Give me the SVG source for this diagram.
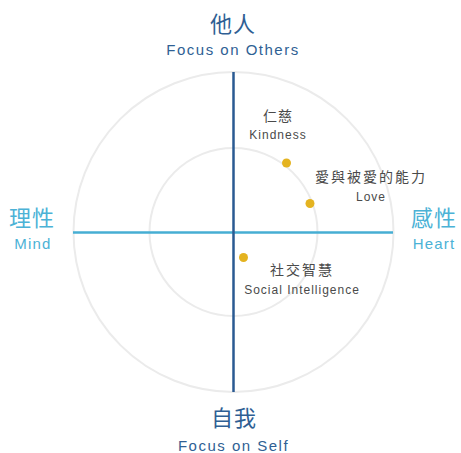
<svg xmlns="http://www.w3.org/2000/svg" width="461" height="453" viewBox="0 0 461 453">
<style>
.ring{fill:none;stroke:#ebebeb;stroke-width:2}
.cjk{font-family:"Noto Sans CJK TC","Noto Sans CJK SC",sans-serif;text-anchor:middle}
.lat{font-family:"Liberation Sans",Arial,sans-serif;text-anchor:middle}
.dark{fill:#2f5f94}
.light{fill:#4bb2d6}
.grey{fill:#4a4a4a}
.dot{fill:#e4b320}
</style>
<rect width="461" height="453" fill="#fff"/>
<g id="rings">
<circle class="ring" cx="233.5" cy="232" r="160"/>
<circle class="ring" cx="233.5" cy="232" r="84"/>
</g>
<g id="connectors">
<line x1="73" y1="232.5" x2="393" y2="232.5" stroke="#46aed3" stroke-width="2.5"/>
<line x1="233.5" y1="72" x2="233.5" y2="392" stroke="#2a5a92" stroke-width="2.5"/>
</g>
<g id="top">
<text class="cjk dark" x="233" y="32" font-size="22" letter-spacing="1">他人</text>
<text class="lat dark" x="233" y="55" font-size="15" letter-spacing="1.5">Focus on Others</text>
</g>
<g id="bottom">
<text class="cjk dark" x="234" y="426" font-size="22" letter-spacing="1">自我</text>
<text class="lat dark" x="233.5" y="451" font-size="15" letter-spacing="1.5">Focus on Self</text>
</g>
<g id="left">
<text class="cjk light" x="32" y="226" font-size="22" letter-spacing="1">理性</text>
<text class="lat light" x="33" y="249" font-size="15" letter-spacing="1.2">Mind</text>
</g>
<g id="right">
<text class="cjk light" x="434" y="226" font-size="22" letter-spacing="1">感性</text>
<text class="lat light" x="434" y="249" font-size="15" letter-spacing="1.2">Heart</text>
</g>
<g id="kindness">
<circle class="dot" cx="286.5" cy="163" r="4.5"/>
<text class="cjk grey" x="278" y="121" font-size="14" letter-spacing="1">仁慈</text>
<text class="lat grey" x="278" y="139" font-size="12" letter-spacing="1">Kindness</text>
</g>
<g id="love">
<circle class="dot" cx="310" cy="203.5" r="4.5"/>
<text class="cjk grey" x="371" y="182" font-size="14" letter-spacing="2">愛與被愛的能力</text>
<text class="lat grey" x="371" y="201" font-size="12" letter-spacing="1">Love</text>
</g>
<g id="social">
<circle class="dot" cx="243.5" cy="257.5" r="4.5"/>
<text class="cjk grey" x="302" y="275" font-size="14" letter-spacing="2">社交智慧</text>
<text class="lat grey" x="302" y="294" font-size="12" letter-spacing="1">Social Intelligence</text>
</g>
</svg>
